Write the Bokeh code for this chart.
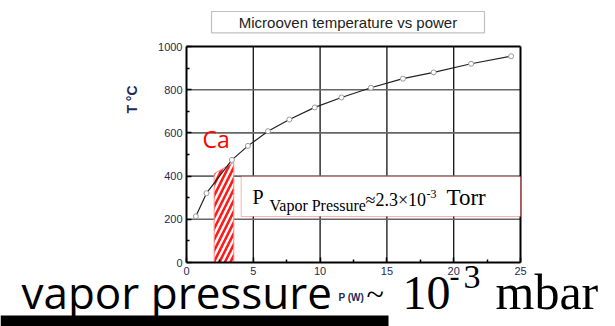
import numpy as np
from bokeh.plotting import figure
from bokeh.models import Label, BoxAnnotation, Range1d, FixedTicker, LinearAxis
from bokeh.embed import file_html
from bokeh.resources import INLINE

# data
power_w = [0.7, 1.5, 3.4, 4.6, 6.1, 7.7, 9.6, 11.6, 13.8, 16.2, 18.5, 21.3, 24.3]
temp_c = [214, 321, 475, 540, 608, 662, 718, 764, 809, 851, 880, 920, 955]
band_x = [2.07, 3.54]          # Ca evaporation window (W)
band_top = [411, 464]          # top of the hatched window (°C)
x_ticks = [0, 5, 10, 15, 20, 25]
y_ticks = [0, 200, 400, 600, 800, 1000]
x_minor = [2.5, 7.5, 12.5, 17.5, 22.5]
y_minor = [100, 300, 500, 700, 900]
x_grid = [5, 10, 15, 20]
y_grid = [200, 400, 600, 800]

W, H = 615, 326
FL, FR, FT, FB = 186, 520, 46, 262
XMAX, YMAX = 25, 1000


def dx(px):
    return (px - FL) * XMAX / (FR - FL)


def dy(py):
    return (FB - py) * YMAX / (FB - FT)


p = figure(width=W, height=H, x_range=Range1d(dx(0), dx(W)), y_range=Range1d(dy(H), dy(0)),
           output_backend="svg", toolbar_location=None,
           x_axis_location=None, y_axis_location=None,
           min_border=0)
p.background_fill_color = "white"
p.border_fill_color = "white"
p.outline_line_color = None
p.grid.visible = False

navy = "#1f2a55"

# grid lines (kept inside the chart frame)
p.segment(x0=x_grid, y0=[0] * len(x_grid), x1=x_grid, y1=[YMAX] * len(x_grid),
          line_color="#111111", line_width=1.3)
p.segment(x0=[0] * len(y_grid), y0=y_grid, x1=[XMAX] * len(y_grid), y1=y_grid,
          line_color="#666666", line_width=1.6)


def axis(side, loc, bounds, ticks, minor=None):
    ax = LinearAxis(fixed_location=loc, bounds=bounds,
                    ticker=FixedTicker(ticks=ticks, minor_ticks=minor or []))
    ax.axis_line_width = 2
    ax.axis_line_color = "black"
    ax.major_tick_in = 5
    ax.major_tick_out = 0
    ax.minor_tick_in = 3
    ax.minor_tick_out = 0
    ax.major_tick_line_width = 1.5
    ax.minor_tick_line_width = 1.5
    ax.major_label_text_font = "Liberation Sans"
    ax.major_label_text_font_size = "11px"
    ax.major_label_text_color = navy
    ax.major_label_standoff = 4
    p.add_layout(ax, side)
    return ax


# hatched Ca window
p.patch([band_x[0], band_x[0], band_x[1], band_x[1]], [0, band_top[0], band_top[1], 0],
        fill_color="white", hatch_pattern="/", hatch_color="#ff1a1a",
        hatch_weight=2.6, hatch_scale=11, line_color="#ff8a8a", line_width=1)

# curve
p.line(power_w, temp_c, line_color="#222222", line_width=1.2)
p.scatter(power_w, temp_c, size=5, fill_color="white", line_color="#9a9a9a", line_width=1)

# frame: real axes plus top/right borders
axis("below", 0, (0, XMAX), x_ticks, minor=x_minor)
axis("left", 0, (0, YMAX), y_ticks, minor=y_minor)
axis("above", YMAX, (0, XMAX), [])
axis("right", XMAX, (0, YMAX), [])

# vapor pressure box
p.add_layout(BoxAnnotation(left=dx(240.7), right=XMAX, top=dy(176), bottom=dy(216),
                           fill_color="white", fill_alpha=1, line_color="red", line_width=1))

# title box
p.add_layout(BoxAnnotation(left=dx(211), right=dx(484), top=dy(11), bottom=dy(32.3),
                           fill_color="white", fill_alpha=1, line_color="#333333", line_width=1.2))

CAP = {"Liberation Serif": 0.33, "Liberation Sans": 0.36, "Open Sans": 0.36}


def lab(text, px, base, size, font="Liberation Sans", color="black", align="left",
        style="normal", angle=0, mid=None):
    ymid = mid if mid is not None else base - CAP[font] * size
    p.add_layout(Label(x=dx(px), y=dy(ymid), text=text, text_font=font, text_font_size=f"{size}px",
                       text_color=color, text_align=align, text_baseline="middle",
                       text_font_style=style, angle=angle))


lab("Microoven temperature vs power", 347.5, None, 15, color="#222222", align="center", mid=22)
lab("T °C", 131, None, 14, color=navy, align="center", style="bold", angle=np.pi / 2, mid=99)
lab("Ca", 202, 147, 23, font="Open Sans", color="red")

serif = "Liberation Serif"
lab("P", 252, 203, 20, font=serif)
lab("Vapor Pressure", 269, 210, 16, font=serif)
lab("≈2.3×10", 365, 205, 18, font=serif)
lab("-3", 426, 197, 12, font=serif)
lab("Torr", 446, 205, 23, font=serif)

lab("P (W)", 338, 301, 10, color=navy, style="bold")
lab("vapor pressure", 21, 307, 44, font="Open Sans")
lab("~", 366, 304, 32, font=serif)
lab("10", 402, 308, 48, font=serif)
lab("-", 449, 286, 30, font=serif)
lab("3", 463, 288, 34, font=serif)
lab("mbar", 495, 308, 50, font=serif)

# black bar at bottom
p.add_layout(BoxAnnotation(left=dx(0), right=dx(388), top=dy(315), bottom=dy(H + 5),
                           fill_color="black", fill_alpha=1, line_color=None))

open("out.html", "w").write(file_html(p, INLINE))
